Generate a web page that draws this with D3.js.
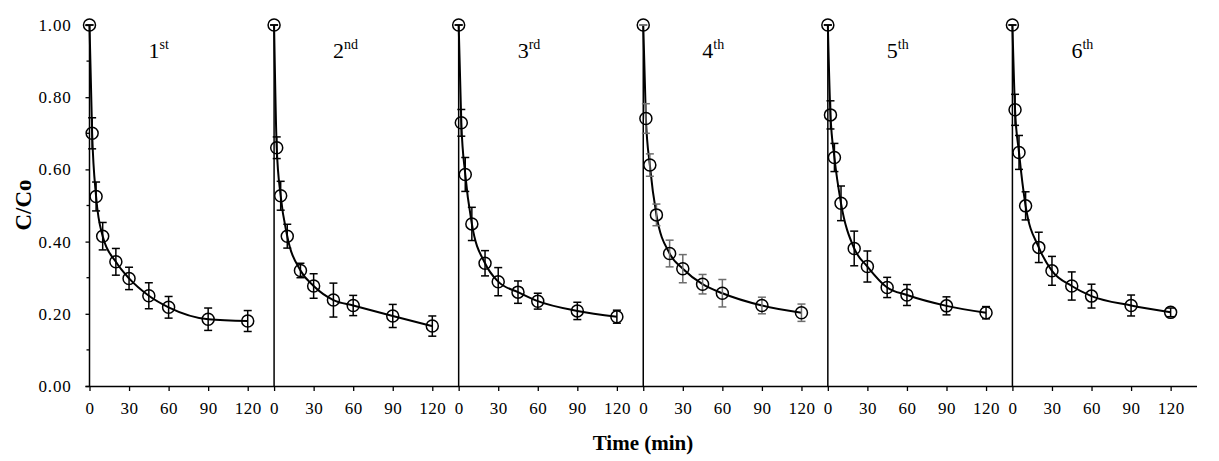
<!DOCTYPE html>
<html>
<head>
<meta charset="utf-8">
<script src="https://cdn.jsdelivr.net/npm/d3@7"></script>
<style>
  html, body { margin: 0; padding: 0; background: #fff; }
  svg { display: block; }
  text { font-family: "Liberation Serif", "Times New Roman", serif; fill: #000; }
</style>
</head>
<body>
<svg id="chart" width="1219" height="461"></svg>
<script>
// ---- data ----
const times = [0, 2, 5, 10, 20, 30, 45, 60, 90, 120];
const cycleLabels = ["1", "2", "3", "4", "5", "6"];
const cycleSuffix = ["st", "nd", "rd", "th", "th", "th"];
const cycle1 = [1.00, 0.700, 0.525, 0.415, 0.344, 0.298, 0.250, 0.218, 0.185, 0.180];
const cycle2 = [1.00, 0.660, 0.527, 0.415, 0.320, 0.277, 0.238, 0.223, 0.194, 0.166];
const cycle3 = [1.00, 0.729, 0.586, 0.449, 0.340, 0.289, 0.260, 0.235, 0.208, 0.192];
const cycle4 = [1.00, 0.741, 0.612, 0.474, 0.367, 0.325, 0.282, 0.257, 0.223, 0.203];
const cycle5 = [1.00, 0.751, 0.633, 0.506, 0.381, 0.331, 0.273, 0.252, 0.222, 0.203];
const cycle6 = [1.00, 0.765, 0.647, 0.499, 0.384, 0.319, 0.277, 0.249, 0.223, 0.204];
const err1 = [0, 0.043, 0.040, 0.038, 0.037, 0.031, 0.036, 0.030, 0.031, 0.029];
const err2 = [0, 0.030, 0.040, 0.033, 0.020, 0.034, 0.047, 0.028, 0.032, 0.028];
const err3 = [0, 0.037, 0.047, 0.046, 0.035, 0.039, 0.031, 0.022, 0.024, 0.018];
const err4 = [0, 0.041, 0.031, 0.030, 0.037, 0.039, 0.027, 0.038, 0.023, 0.024];
const err5 = [0, 0.039, 0.039, 0.048, 0.048, 0.043, 0.028, 0.029, 0.025, 0.017];
const err6 = [0, 0.043, 0.047, 0.039, 0.042, 0.040, 0.039, 0.033, 0.029, 0.012];
const cycleValues = [cycle1, cycle2, cycle3, cycle4, cycle5, cycle6];
const cycleErrors = [err1, err2, err3, err4, err5, err6];
const cycleLength = 140;
const xTickValues = [0, 30, 60, 90, 120];
const yTickValues = [0, 0.2, 0.4, 0.6, 0.8, 1.0];
const yMinorTicks = [0.1, 0.3, 0.5, 0.7, 0.9];
const errColors = ["#000", "#000", "#000", "#6e6e6e", "#000", "#000"];

// ---- scales ----
const svg = d3.select("#chart");
const x = d3.scaleLinear().domain([0, cycleLength * 6]).range([89.5, 1197]);
const y = d3.scaleLinear().domain([0, 1]).range([386, 25]);

// ---- y axis ----
const yAxis = d3.axisLeft(y).tickValues(yTickValues).tickFormat(d3.format(".2f")).tickSize(4).tickPadding(14);
const gy = svg.append("g").attr("transform", `translate(${x(0)},0)`).call(yAxis);
gy.select(".domain").remove();
gy.selectAll("line").attr("stroke", "#000").attr("stroke-width", 1.3);
gy.selectAll("text").style("font-size", "17px").style("font-family", "Liberation Serif").style("letter-spacing", "0.8px");
svg.append("g").selectAll("line").data(yMinorTicks).join("line")
  .attr("x1", x(0) - 3).attr("x2", x(0)).attr("y1", d => y(d)).attr("y2", d => y(d))
  .attr("stroke", "#000").attr("stroke-width", 1.3);

// ---- x axis ----
const allTicks = [];
cycleValues.forEach((_, k) => xTickValues.forEach(t => allTicks.push({k, t, v: k * cycleLength + t})));
const xAxis = d3.axisBottom(x).tickValues(allTicks.map(d => d.v))
  .tickFormat((d, i) => String(allTicks[i].t)).tickSize(5).tickPadding(11).tickSizeOuter(0);
const gx = svg.append("g").attr("transform", `translate(0,${y(0)})`).call(xAxis);
gx.select(".domain").attr("stroke", "#000").attr("stroke-width", 1.5).attr("d", `M${x(0) - 4},0.5H${x(cycleLength * 6)}`);
gx.selectAll("line").attr("stroke", "#000").attr("stroke-width", 1.3);
gx.selectAll("text").style("font-size", "17px").style("font-family", "Liberation Serif").style("letter-spacing", "0.5px");

// ---- panels ----
const line = d3.line().x(d => x(d.v)).y(d => y(d.c)).curve(d3.curveMonotoneX);
cycleValues.forEach((vals, k) => {
  const off = k * cycleLength;
  const pts = times.map((t, i) => ({v: off + t, c: vals[i], e: cycleErrors[k][i]}));
  const g = svg.append("g");
  // vertical separator / y axis
  g.append("line").attr("x1", x(off)).attr("x2", x(off)).attr("y1", y(1)).attr("y2", y(0))
    .attr("stroke", "#000").attr("stroke-width", 1.5);
  // curve
  g.append("path").datum(pts).attr("d", line).attr("fill", "none").attr("stroke", "#000").attr("stroke-width", 2);
  // error bars
  const eb = g.append("g").attr("stroke", errColors[k]).attr("stroke-width", 1.5);
  eb.selectAll(".v").data(pts).join("line")
    .attr("x1", d => x(d.v)).attr("x2", d => x(d.v)).attr("y1", d => y(d.c - d.e)).attr("y2", d => y(d.c + d.e));
  eb.selectAll(".t").data(pts).join("line")
    .attr("x1", d => x(d.v) - 4).attr("x2", d => x(d.v) + 4).attr("y1", d => y(d.c + d.e)).attr("y2", d => y(d.c + d.e));
  eb.selectAll(".b").data(pts).join("line")
    .attr("x1", d => x(d.v) - 4).attr("x2", d => x(d.v) + 4).attr("y1", d => y(d.c - d.e)).attr("y2", d => y(d.c - d.e));
  // markers
  g.selectAll("circle").data(pts).join("circle")
    .attr("cx", d => x(d.v)).attr("cy", d => y(d.c)).attr("r", 6)
    .attr("fill", "none").attr("stroke", "#000").attr("stroke-width", 1.5);
  // panel label
  const lab = g.append("text").attr("x", x(off) + 59).attr("y", 58).style("font-size", "22px");
  lab.append("tspan").text(cycleLabels[k]);
  lab.append("tspan").attr("dy", -9).style("font-size", "14px").text(cycleSuffix[k]);
});

// ---- axis titles ----
svg.append("text").attr("transform", `translate(31,205) rotate(-90)`).attr("text-anchor", "middle")
  .style("font-size", "23px").style("font-weight", "bold").text("C/Co");
svg.append("text").attr("x", 643).attr("y", 450).attr("text-anchor", "middle")
  .style("font-size", "21px").style("font-weight", "bold").text("Time (min)");
</script>
</body>
</html>
